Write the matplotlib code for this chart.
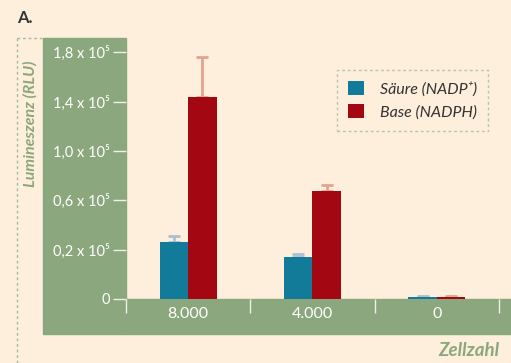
import matplotlib.pyplot as plt
import numpy as np
from matplotlib.patches import Rectangle
from matplotlib.lines import Line2D

# Data (Lumineszenz in 10^5 RLU)
cell_counts = ['8.000', '4.000', '0']
acid_vals = [0.264, 0.17, 0.01]
acid_err = [0.05, 0.014, 0.004]
base_vals = [1.44, 0.676, 0.01]
base_err = [0.32, 0.05, 0.004]
y_ticks = [0, 0.2, 0.6, 1.0, 1.4, 1.8]
y_tick_labels = ['0', '0,2 x 10⁵', '0,6 x 10⁵', '1,0 x 10⁵', '1,4 x 10⁵', '1,8 x 10⁵']

bg = '#fdefdc'
green = '#8ba77d'
blue = '#127b99'
red = '#a30812'
tick_col = '#eef2e6'

plt.rcParams['font.family'] = ['Lato', 'DejaVu Sans']


# the y axis is not linear: 0 -> 0.2 takes the same space as 0.2 -> 0.6
def fwd(v):
    v = np.asarray(v, dtype=float)
    return np.where(v < 0.2, v / 0.2, 1 + (v - 0.2) / 0.4)


def inv(u):
    u = np.asarray(u, dtype=float)
    return np.where(u < 1, u * 0.2, 0.2 + (u - 1) * 0.4)


W, H = 511, 363
fig = plt.figure(figsize=(W / 100, H / 100), dpi=100, facecolor=bg)

# green panels
fig.patches.append(Rectangle((43 / W, 1 - 334 / H), (126 - 43) / W, (334 - 38) / H,
                             transform=fig.transFigure, color=green, zorder=0))
fig.patches.append(Rectangle((126 / W, 1 - 334 / H), (W - 126) / W, (334 - 299) / H,
                             transform=fig.transFigure, color=green, zorder=0))
# dashed frame bits
fig.add_artist(Line2D([17 / W, 17 / W], [1 - 38 / H, 0], transform=fig.transFigure,
                      color='#a9b89f', lw=1, ls=(0, (2, 2))))
fig.add_artist(Line2D([17 / W, 43 / W], [1 - 38 / H, 1 - 38 / H], transform=fig.transFigure,
                      color='#a9b89f', lw=1, ls=(0, (2, 2))))

ax = fig.add_axes([126 / W, 1 - 299 / H, (W - 126) / W, (299 - 38) / H])
ax.set_zorder(2)
ax.set_facecolor('none')
ax.set_yscale('function', functions=(fwd, inv))

x = np.arange(len(cell_counts))
w = 0.23
ax.bar(x - w / 2, acid_vals, w, color=blue, zorder=2, label='Säure (NADP⁺)')
ax.bar(x + w / 2, base_vals, w, color=red, zorder=2, label='Base (NADPH)')
ax.errorbar(x - w / 2, acid_vals, yerr=[np.zeros(3), acid_err], fmt='none',
            ecolor='#a9c0d2', elinewidth=2, capsize=4, capthick=2, zorder=1)
ax.errorbar(x + w / 2, base_vals, yerr=[np.zeros(3), base_err], fmt='none',
            ecolor='#e2a393', elinewidth=2, capsize=4, capthick=2, zorder=1)

ax.set_xlim(-0.5, (W - 189) / 124)
ax.set_ylim(0, inv(5.29))

for s in ax.spines.values():
    s.set_visible(False)

ax.set_yticks(y_ticks)
ax.set_yticklabels(y_tick_labels)
ax.set_yticks([], minor=True)
ax.tick_params(axis='y', direction='out', length=9.5, width=1, color=tick_col,
               labelcolor='white', labelsize=10.5, pad=2)

ax.set_xticks([-0.5, 0.5, 1.5, 2.5])
ax.set_xticklabels([])
ax.set_xticks(x, minor=True)
ax.set_xticklabels(cell_counts, minor=True)
ax.tick_params(axis='x', which='major', direction='out', length=10, width=1, color=tick_col)
ax.tick_params(axis='x', which='minor', length=0, pad=6, labelcolor='white', labelsize=11.5)

fig.text(30 / W, 1 - 124 / H, 'Lumineszenz (RLU)', rotation=90, ha='center', va='center',
         color=green, fontsize=11.5, fontweight='bold', fontstyle='italic')
fig.text(499 / W, 1 - 350 / H, 'Zellzahl', ha='right', va='center',
         color=green, fontsize=13.5, fontweight='bold', fontstyle='italic')
fig.text(17 / W, 1 - 18 / H, 'A.', ha='left', va='center',
         color='#333333', fontsize=12, fontweight='bold')

leg = ax.legend(loc='upper left', bbox_to_anchor=((337 - 126) / (W - 126), 1 - (70 - 38) / (299 - 38)),
                frameon=True, fancybox=False, handlelength=1.0, handleheight=1.0,
                handletextpad=1.0, borderpad=0.7, labelspacing=0.45, borderaxespad=0,
                prop={'style': 'italic', 'size': 11.5})
leg.get_frame().set_edgecolor('#a9b89f')
leg.get_frame().set_linestyle((0, (2, 2)))
leg.get_frame().set_facecolor('none')
for t in leg.get_texts():
    t.set_color('#333333')

fig.savefig('out.png', dpi=100, facecolor=bg)
